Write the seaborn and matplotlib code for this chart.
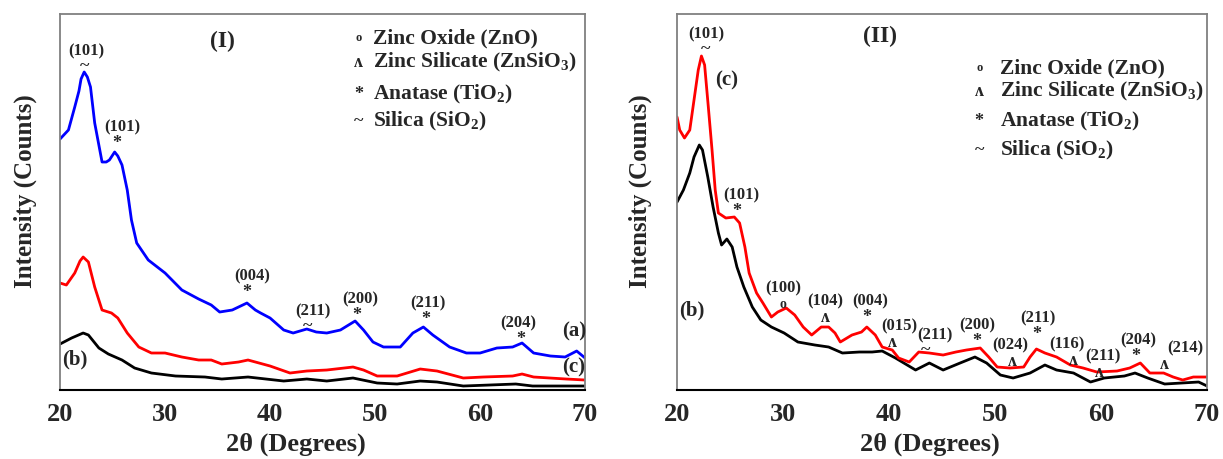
"""
XRD patterns, panels (I) and (II).
"""

import matplotlib
matplotlib.use("Agg")
import matplotlib.pyplot as plt
import seaborn as sns
import pandas as pd

# ---- data (2theta in degrees, intensity in arbitrary units) ----
theta_Ia = [20, 20.8, 21.4, 21.8, 22.0, 22.3, 22.6, 22.9, 23.3, 24.0, 24.4, 24.7, 25.2, 25.5,
            25.9, 26.4, 26.8, 27.3, 28.4, 30.0, 31.6, 33.2, 34.4, 35.2, 36.4, 37.8, 38.6,
            39.1, 40.0, 41.3, 42.2, 43.5, 44.4, 45.4, 46.7, 48.1, 48.9, 49.8, 50.8, 52.4,
            53.6, 54.6, 55.5, 57.1, 58.7, 60.0, 61.6, 63.1, 64.0, 65.1, 66.7, 68.1, 69.2, 70.0]
int_Ia = [250, 259, 282, 298, 310, 317, 312, 302, 266, 227, 227, 229, 237, 233,
          224, 199, 169, 146, 129, 116, 99, 90, 84, 77, 79, 86, 79,
          76, 71, 59, 56, 60, 57, 56, 59, 68, 59, 47, 42, 42,
          56, 62, 54, 42, 36, 36, 41, 42, 46, 36, 33, 32, 38, 31]

theta_Ic = [20, 20.6, 21.4, 21.9, 22.2, 22.7, 23.3, 24.0, 24.9, 25.5, 26.4, 27.5, 28.7, 30.0,
            31.6, 33.2, 34.4, 35.4, 37.0, 37.9, 38.6, 40.0, 41.9, 43.5, 45.4, 47.9, 48.9,
            50.2, 52.1, 54.3, 55.9, 58.4, 60.3, 63.1, 64.0, 65.1, 68.2, 70.0]
int_Ic = [106, 104, 116, 128, 132, 127, 102, 79, 76, 71, 56, 42, 36, 36,
          32, 29, 29, 25, 27, 29, 27, 23, 16, 18, 19, 22, 19,
          13, 13, 20, 18, 11, 12, 13, 15, 12, 10, 9]

theta_Ib = [20, 21.1, 22.2, 22.7, 23.7, 24.6, 25.9, 27.1, 28.7, 31.0, 33.8, 35.4, 37.9, 41.3,
            43.5, 45.4, 47.9, 50.2, 52.1, 54.3, 55.9, 58.4, 63.4, 65.0, 70.0]
int_Ib = [45, 51, 56, 54, 41, 35, 29, 21, 16, 13, 12, 10, 12, 8,
          10, 8, 11, 6, 5, 8, 7, 3, 5, 3, 3]

theta_IIc = [20, 20.25, 20.7, 21.2, 21.6, 22.0, 22.3, 22.6, 22.95, 23.3, 23.6, 23.9, 24.6, 25.4,
             25.9, 26.4, 26.8, 27.5, 28.1, 28.9, 29.5, 30.3, 31.1, 31.9, 32.7, 33.6, 34.3,
             34.9, 35.4, 36.5, 37.4, 37.9, 38.7, 39.35, 40.3, 40.9, 41.9, 42.8, 43.8, 45.1,
             46.3, 47.3, 48.6, 49.4, 50.2, 51.4, 52.7, 53.3, 53.9, 54.7, 55.8, 57.1, 58.3,
             59.6, 61.5, 62.7, 63.7, 64.6, 65.9, 66.8, 67.7, 68.7, 70.0]
int_IIc = [272, 259, 251, 259, 289, 319, 333, 324, 282, 239, 199, 176, 171, 172,
           166, 142, 116, 96, 86, 72, 77, 81, 74, 62, 54, 62, 62,
           56, 47, 54, 57, 62, 54, 42, 39, 31, 27, 37, 36, 34,
           37, 39, 41, 32, 22, 21, 22, 32, 40, 36, 32, 24, 21,
           17, 18, 21, 26, 16, 16, 12, 9, 12, 12]

theta_IIb = [20, 20.6, 21.2, 21.6, 22.1, 22.4, 22.9, 23.4, 23.9, 24.2, 24.7, 25.2, 25.65, 26.3,
             27.1, 27.9, 28.9, 30.1, 31.4, 33.0, 34.3, 35.6, 37.2, 38.4, 39.35, 40.6, 42.5,
             43.8, 45.1, 46.7, 48.1, 49.2, 50.5, 51.7, 53.3, 54.7, 55.8, 57.4, 59.0, 60.3,
             62.2, 63.2, 64.4, 66.0, 67.6, 69.2, 70.0]
int_IIb = [187, 199, 216, 232, 244, 239, 212, 182, 156, 144, 150, 142, 122, 102,
           82, 69, 62, 56, 47, 44, 42, 36, 37, 37, 38, 31, 19,
           26, 19, 26, 32, 26, 14, 11, 16, 24, 19, 16, 7, 11,
           13, 16, 11, 5, 6, 7, 3]

# peak labels: (2theta, intensity, hkl, phase symbol, symbol shift in 2theta)
peaks_I = [(22.5, 338, "(101)", "~", -0.2), (25.9, 262, "(101)", "*", -0.5),
           (38.3, 113, "(004)", "*", -0.5), (44.1, 78, "(211)", "~", -0.5),
           (48.6, 90, "(200)", "*", -0.3), (55.0, 86, "(211)", "*", -0.2),
           (63.6, 66, "(204)", "*", 0.3)]
peaks_II = [(22.8, 355, "(101)", "~", -0.1), (26.1, 194, "(101)", "*", -0.5),
            (30.0, 101, "(100)", "o", 0.0), (34.0, 88, "(104)", "ʌ", 0.0),
            (38.2, 88, "(004)", "*", -0.3), (41.0, 63, "(015)", "ʌ", -0.7),
            (44.3, 54, "(211)", "~", -0.9), (48.3, 64, "(200)", "*", 0.0),
            (51.4, 44, "(024)", "ʌ", 0.2), (54.0, 71, "(211)", "*", -0.1),
            (56.8, 45, "(116)", "ʌ", 0.6), (60.2, 33, "(211)", "ʌ", -0.4),
            (63.5, 49, "(204)", "*", -0.2), (67.9, 41, "(214)", "ʌ", -1.9)]

legend_syms = ["o", "ʌ", "*", "~"]
legend_txt = ["Zinc Oxide (ZnO)", "Zinc Silicate (ZnSiO$_3$)",
              "Anatase (TiO$_2$)", "Silica (SiO$_2$)"]

sns.set_style("white")
plt.rcParams["font.family"] = ["Liberation Serif", "DejaVu Serif"]
plt.rcParams["font.weight"] = "bold"
plt.rcParams["mathtext.fontset"] = "custom"
plt.rcParams["mathtext.default"] = "bf"
plt.rcParams["mathtext.bf"] = "Liberation Serif:bold"
plt.rcParams["mathtext.rm"] = "Liberation Serif:bold"

fig = plt.figure(figsize=(12.23, 4.59), dpi=100)
ax1 = fig.add_axes([0.0491, 0.1503, 0.4293, 0.8192])
ax2 = fig.add_axes([0.5536, 0.1503, 0.4334, 0.8192])

df1 = pd.concat([
    pd.DataFrame({"theta": theta_Ia, "I": int_Ia, "s": "a"}),
    pd.DataFrame({"theta": theta_Ic, "I": int_Ic, "s": "c"}),
    pd.DataFrame({"theta": theta_Ib, "I": int_Ib, "s": "b"}),
])
df2 = pd.concat([
    pd.DataFrame({"theta": theta_IIb, "I": int_IIb, "s": "b"}),
    pd.DataFrame({"theta": theta_IIc, "I": int_IIc, "s": "c"}),
])
pal = {"a": "#0000ff", "b": "#000000", "c": "#ff0000"}

sns.lineplot(data=df1, x="theta", y="I", hue="s", palette=pal, legend=False,
             linewidth=2.0, ax=ax1)
sns.lineplot(data=df2, x="theta", y="I", hue="s", palette=pal, legend=False,
             linewidth=2.0, ax=ax2)

for ax in (ax1, ax2):
    ax.set_xlim(20, 70)
    ax.set_ylim(-1, 375)
    ax.set_yticks([])
    ax.set_xticks([20, 30, 40, 50, 60, 70])
    ax.tick_params(axis="x", direction="out", length=6, width=1.5, labelsize=19, pad=3)
    for lab in ax.get_xticklabels():
        lab.set_fontweight("bold")
    for side in ("left", "top", "right"):
        ax.spines[side].set_color("#808080")
        ax.spines[side].set_linewidth(1.3)
    ax.spines["bottom"].set_color("black")
    ax.spines["bottom"].set_linewidth(1.5)
    ax.set_xlabel("2θ (Degrees)", fontsize=19, fontweight="bold", va="center")
    ax.set_ylabel("Intensity (Counts)", fontsize=18, fontweight="bold", va="center")

ax1.xaxis.set_label_coords(0.45, -0.145)
ax2.xaxis.set_label_coords(0.477, -0.145)
ax1.yaxis.set_label_coords(-0.067, 0.53)
ax2.yaxis.set_label_coords(-0.07, 0.53)

lbl_kw = dict(ha="center", va="center", fontsize=12, fontweight="bold")

for ax, peaks in ((ax1, peaks_I), (ax2, peaks_II)):
    for x, y, hkl, sym, dx in peaks:
        ax.text(x, y, hkl, **lbl_kw)
        ax.text(x + dx, y - 16, sym, fontsize=10 if sym == "o" else 13,
                ha="center", va="center", fontweight="bold")

curve_kw = dict(ha="center", va="center", fontsize=15, fontweight="bold")
ax1.text(69.0, 58, "(a)", **curve_kw)
ax1.text(68.9, 22, "(c)", **curve_kw)
ax1.text(21.4, 30, "(b)", **curve_kw)
ax2.text(24.7, 309, "(c)", **curve_kw)
ax2.text(21.4, 79, "(b)", **curve_kw)

ax1.text(0.31, 0.926, "(I)", transform=ax1.transAxes, ha="center", va="center",
         fontsize=17, fontweight="bold")
ax2.text(0.383, 0.939, "(II)", transform=ax2.transAxes, ha="center", va="center",
         fontsize=17, fontweight="bold")

leg_pos = [(ax1, 0.568, 0.596, [0.936, 0.870, 0.785, 0.715]),
           (ax2, 0.570, 0.609, [0.856, 0.793, 0.713, 0.638])]
for ax, xs, xt, ys in leg_pos:
    for sym, txt, y in zip(legend_syms, legend_txt, ys):
        ax.text(xs, y, sym, transform=ax.transAxes, ha="center", va="center",
                fontsize=9 if sym == "o" else 13, fontweight="bold")
        ax.text(xt, y, txt, transform=ax.transAxes, ha="left", va="center",
                fontsize=15.5, fontweight="bold")

plt.savefig("out.png", dpi=100)
